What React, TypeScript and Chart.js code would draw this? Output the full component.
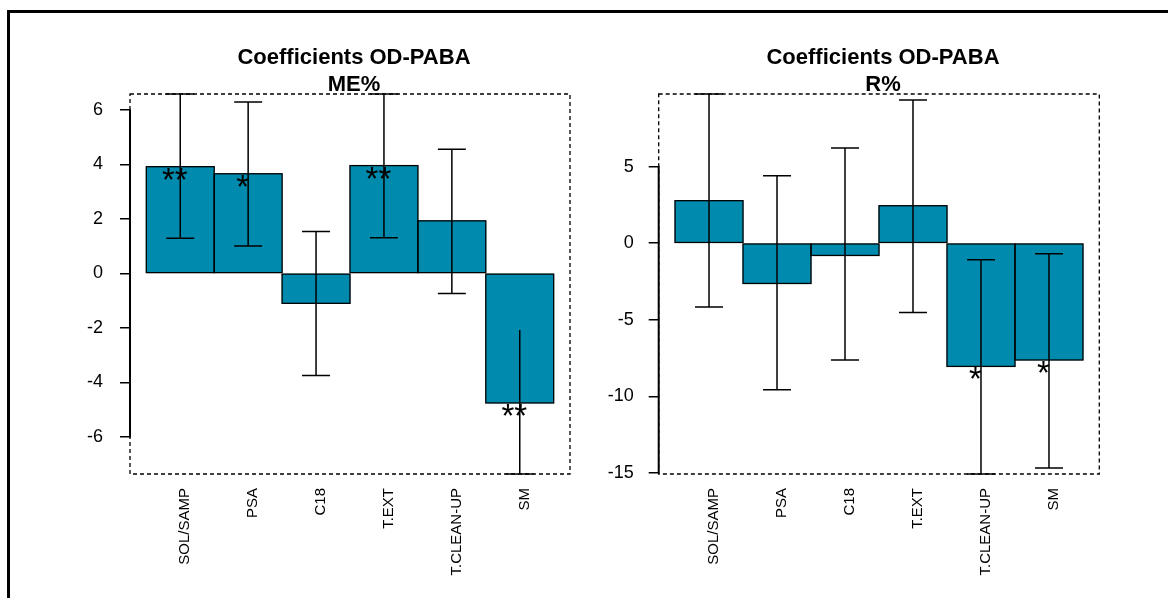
import { useEffect, useRef } from "react";
import { Chart, registerables } from "chart.js";

Chart.register(...registerables);

// ---------- data ----------
const categories = ["SOL/SAMP", "PSA", "C18", "T.EXT", "T.CLEAN-UP", "SM"];
const titleMain = "Coefficients OD-PABA";

// Left panel: ME%
const meSubtitle = "ME%";
const meValues = [3.92, 3.66, -1.1, 3.96, 1.93, -4.76];
const meLower = [1.29, 1.01, -3.75, 1.31, -0.74, -7.37];
const meUpper = [6.59, 6.3, 1.54, 6.59, 4.56, -2.08];
const meUpperCap = [true, true, true, true, true, false];
const meStars = ["**", "*", "", "**", "", "**"];
const meTicks = [-6, -4, -2, 0, 2, 4, 6];
const meMin = -7.37;
const meMax = 6.59;

// Right panel: R%
const rSubtitle = "R%";
const rValues = [2.78, -2.63, -0.8, 2.45, -8.05, -7.63];
const rLower = [-4.17, -9.58, -7.63, -4.52, -15.08, -14.69];
const rUpper = [9.75, 4.41, 6.22, 9.36, -1.08, -0.69];
const rUpperCap = [true, true, true, true, true, true];
const rStars = ["", "", "", "", "*", "*"];
const rTicks = [-15, -10, -5, 0, 5];
const rMin = -15.08;
const rMax = 9.75;

// ---------- style ----------
const BAR_COLOR = "#008aad";
const FONT = "'Liberation Sans', Arial, Helvetica, sans-serif";

type PanelCfg = {
  subtitle: string;
  values: number[];
  lower: number[];
  upper: number[];
  upperCap: boolean[];
  stars: string[];
  ticks: number[];
  min: number;
  max: number;
  padding: { left: number; right: number; top: number; bottom: number };
  tickPadding: number;
};

function makeOverlay(cfg: PanelCfg) {
  return {
    id: "overlay",
    afterDatasetsDraw(chart: any) {
      const ctx = chart.ctx as CanvasRenderingContext2D;
      const area = chart.chartArea;
      const yScale = chart.scales.y;
      const meta = chart.getDatasetMeta(0);
      ctx.save();

      // bar outlines
      ctx.strokeStyle = "#000";
      ctx.lineWidth = 1.3;
      ctx.setLineDash([]);
      meta.data.forEach((bar: any) => {
        const top = Math.min(bar.y, bar.base);
        const h = Math.abs(bar.y - bar.base);
        ctx.strokeRect(bar.x - bar.width / 2, top, bar.width, h);
      });

      // dashed plot box
      ctx.setLineDash([4, 3]);
      ctx.lineWidth = 1.3;
      ctx.strokeRect(area.left, area.top, area.right - area.left, area.bottom - area.top);
      ctx.setLineDash([]);

      // solid y axis line from first to last tick
      const t0 = yScale.getPixelForValue(cfg.ticks[0]);
      const t1 = yScale.getPixelForValue(cfg.ticks[cfg.ticks.length - 1]);
      ctx.lineWidth = 2;
      ctx.beginPath();
      ctx.moveTo(area.left, t0 + 0.75);
      ctx.lineTo(area.left, t1 - 0.75);
      ctx.stroke();

      // error bars
      const capHalf = 14;
      ctx.lineWidth = 1.5;
      meta.data.forEach((bar: any, i: number) => {
        const yl = yScale.getPixelForValue(cfg.lower[i]);
        const yu = yScale.getPixelForValue(cfg.upper[i]);
        ctx.beginPath();
        ctx.moveTo(bar.x, yl);
        ctx.lineTo(bar.x, yu);
        ctx.moveTo(bar.x - capHalf, yl);
        ctx.lineTo(bar.x + capHalf, yl);
        if (cfg.upperCap[i]) {
          ctx.moveTo(bar.x - capHalf, yu);
          ctx.lineTo(bar.x + capHalf, yu);
        }
        ctx.stroke();
      });

      // significance stars
      ctx.fillStyle = "#000";
      ctx.font = `33px ${FONT}`;
      ctx.textAlign = "center";
      ctx.textBaseline = "alphabetic";
      meta.data.forEach((bar: any, i: number) => {
        const s = cfg.stars[i];
        if (!s) return;
        ctx.fillText(s, bar.x - 5.5, bar.y + 24);
      });

      // titles
      const cx = (area.left + area.right) / 2 + 4;
      ctx.font = `bold 22px ${FONT}`;
      ctx.fillText(titleMain, cx, 63.5);
      ctx.fillText(cfg.subtitle, cx, 91);

      ctx.restore();
    },
  };
}

function buildConfig(cfg: PanelCfg): any {
  const n = categories.length;
  return {
    type: "bar",
    data: {
      datasets: [
        {
          data: cfg.values.map((v, i) => ({ x: i + 0.5, y: v })),
          backgroundColor: BAR_COLOR,
          borderWidth: 0,
          categoryPercentage: 1,
          barPercentage: 1,
        },
      ],
    },
    options: {
      responsive: false,
      animation: false,
      devicePixelRatio: 1,
      layout: { padding: cfg.padding },
      plugins: {
        legend: { display: false },
        tooltip: { enabled: false },
        title: { display: false },
      },
      scales: {
        x: {
          type: "linear",
          offset: false,
          min: -0.04 * n,
          max: 1.04 * n,
          afterBuildTicks: (scale: any) => {
            scale.ticks = categories.map((_, i) => ({ value: i + 0.5 }));
          },
          afterFit: (scale: any) => {
            scale.height = 124;
          },
          grid: { display: false, drawTicks: false, offset: false },
          border: { display: false },
          ticks: {
            autoSkip: false,
            maxRotation: 90,
            minRotation: 90,
            padding: 14,
            labelOffset: 5,
            color: "#000",
            font: { family: FONT, size: 15 },
            callback: (v: any) => categories[Math.round(Number(v) - 0.5)] ?? "",
          },
        },
        y: {
          type: "linear",
          min: cfg.min,
          max: cfg.max,
          afterBuildTicks: (scale: any) => {
            scale.ticks = cfg.ticks.map((v) => ({ value: v }));
          },
          afterFit: (scale: any) => {
            scale.width = 130;
          },
          grid: {
            display: true,
            drawOnChartArea: false,
            drawTicks: true,
            tickLength: 10,
            color: "#000",
            lineWidth: 1.5,
          },
          border: { display: false },
          ticks: {
            padding: cfg.tickPadding,
            color: "#000",
            font: { family: FONT, size: 18 },
            callback: (v: any) => String(v),
          },
        },
      },
    },
    plugins: [makeOverlay(cfg)],
  };
}

export default function App() {
  const leftRef = useRef<HTMLCanvasElement>(null);
  const rightRef = useRef<HTMLCanvasElement>(null);

  useEffect(() => {
    const left = new Chart(
      leftRef.current as HTMLCanvasElement,
      buildConfig({
        subtitle: meSubtitle,
        values: meValues,
        lower: meLower,
        upper: meUpper,
        upperCap: meUpperCap,
        stars: meStars,
        ticks: meTicks,
        min: meMin,
        max: meMax,
        padding: { left: 0, right: 598, top: 94, bottom: 0 },
        tickPadding: 17,
      })
    );
    const right = new Chart(
      rightRef.current as HTMLCanvasElement,
      buildConfig({
        subtitle: rSubtitle,
        values: rValues,
        lower: rLower,
        upper: rUpper,
        upperCap: rUpperCap,
        stars: rStars,
        ticks: rTicks,
        min: rMin,
        max: rMax,
        padding: { left: 528.7, right: 68.7, top: 94, bottom: 0 },
        tickPadding: 15,
      })
    );
    return () => {
      left.destroy();
      right.destroy();
    };
  }, []);

  const canvasStyle: any = { position: "absolute", left: 0, top: 0, width: 1168, height: 598 };
  return (
    <div
      style={{
        position: "fixed",
        left: 0,
        top: 0,
        width: 1168,
        height: 598,
        background: "#fff",
        overflow: "hidden",
      }}
    >
      <div
        style={{
          position: "absolute",
          left: 7,
          top: 10,
          right: -20,
          bottom: -20,
          borderTop: "3px solid #000",
          borderLeft: "3px solid #000",
        }}
      />
      <canvas ref={leftRef} width={1168} height={598} style={canvasStyle} />
      <canvas ref={rightRef} width={1168} height={598} style={canvasStyle} />
    </div>
  );
}
